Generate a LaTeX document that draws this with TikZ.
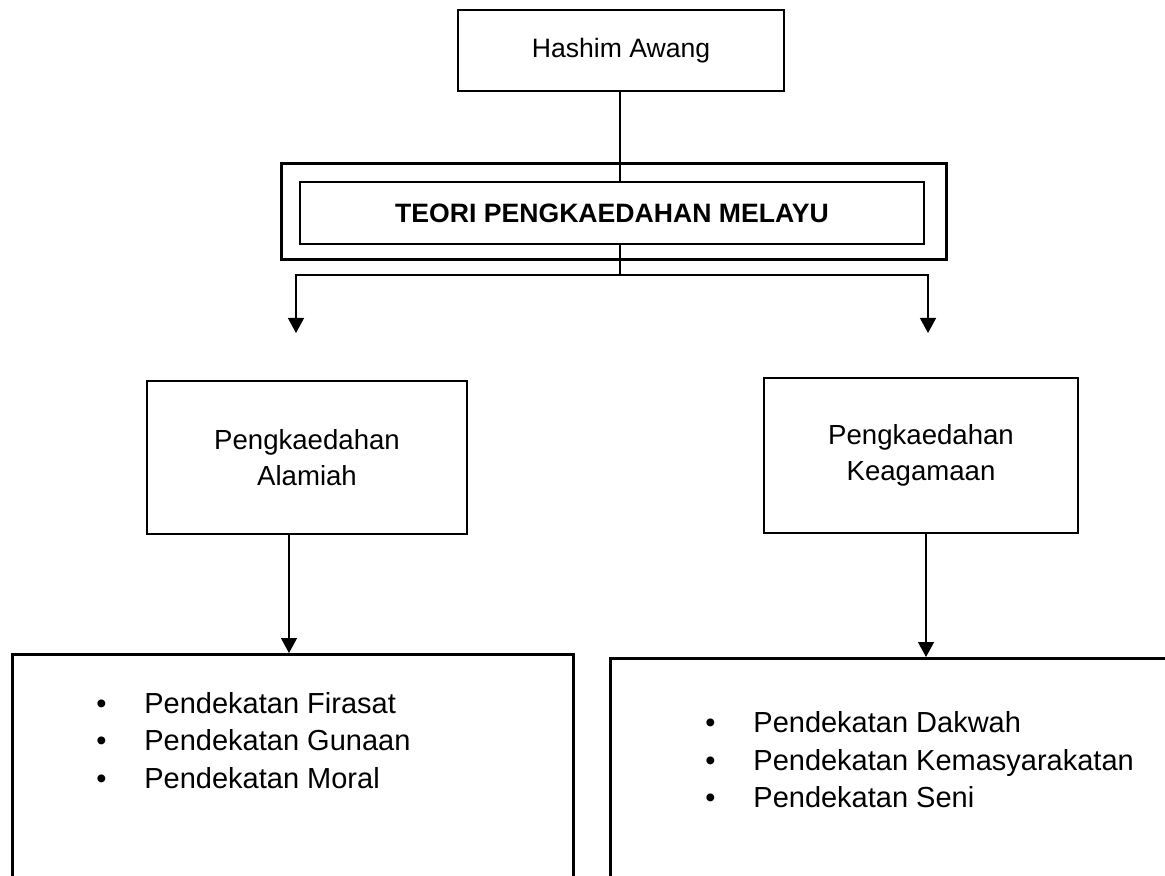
\documentclass[tikz,border=0pt]{standalone}
\usepackage{fontspec}
\setmainfont{Liberation Sans}
\usetikzlibrary{positioning, arrows.meta}
\usepackage{xcolor}
\definecolor{framecol}{HTML}{000000}

\newcommand{\bulletline}[1]{\makebox[24pt][l]{\textbullet}#1}

\begin{document}
\begin{tikzpicture}[x=0.5pt, y=-0.5pt,
  every node/.style={inner sep=0pt, align=center, text=black},
  box/.style={draw=framecol, line width=1.3pt},
  link/.style={draw=framecol, line width=0.65pt},
  arrow/.style={link, -{Triangle[width=8pt, length=7.5pt]}},
  items/.style={align=left, font=\fontsize{14.5}{18.75}\selectfont}]
\useasboundingbox (0,0) rectangle (1165,876);
\clip (0,0) rectangle (1165,876);

% Row 1
\node[box, minimum width=163pt, minimum height=40.5pt, font=\fontsize{13.3}{16}\selectfont] (hashim) at (621,50.5) {Hashim Awang};

\node[box, line width=0.65pt, minimum width=312pt, minimum height=31pt, font=\bfseries\fontsize{13.3}{16}\selectfont] (teori) at (612,213) {TEORI PENGKAEDAHAN MELAYU};
\node[box, line width=1.5pt, minimum width=332.5pt, minimum height=48pt] (teoriframe) at (613.5,212) {};

% Row 2
\node[box, minimum width=160pt, minimum height=76.5pt, font=\fontsize{13.8}{18}\selectfont] (alamiah) at (307,457.5) {Pengkaedahan\\Alamiah};
\node[box, minimum width=157pt, minimum height=77.5pt, font=\fontsize{13.8}{18}\selectfont] (keagamaan) at (921,455.5) {Pengkaedahan\\Keagamaan};

% Row 3
\node[box, line width=1.4pt, anchor=north west, minimum width=280.5pt, minimum height=150pt] (alamiahlist) at (11,653) {};
\node[box, line width=1.4pt, anchor=north west, minimum width=300pt, minimum height=150pt] (keagamaanlist) at (609,657) {};

\node[items, anchor=west] (alamiahitems) at (96,740.5) {\bulletline{Pendekatan Firasat}\\
\bulletline{Pendekatan Gunaan}\\
\bulletline{Pendekatan Moral}};
\node[items, anchor=west] (keagamaanitems) at (705,760) {\bulletline{Pendekatan Dakwah}\\
\bulletline{Pendekatan Kemasyarakatan}\\
\bulletline{Pendekatan Seni}};

% Connectors
\coordinate (split) at (620,275);
\coordinate (leftdrop) at (296,333);
\coordinate (rightdrop) at (928,333);
\draw[link] (hashim.south -| split) -- (teori.north -| split);
\draw[link] (teori.south -| split) -- (split);
\draw[arrow] (split) -| (leftdrop);
\draw[arrow] (split) -| (rightdrop);

\draw[arrow] ([xshift=-9pt]alamiah.south) -- ([xshift=-9pt]alamiah.south |- alamiahlist.north);
\draw[arrow] ([xshift=2.5pt]keagamaan.south) -- ([xshift=2.5pt]keagamaan.south |- keagamaanlist.north);
\end{tikzpicture}
\end{document}
